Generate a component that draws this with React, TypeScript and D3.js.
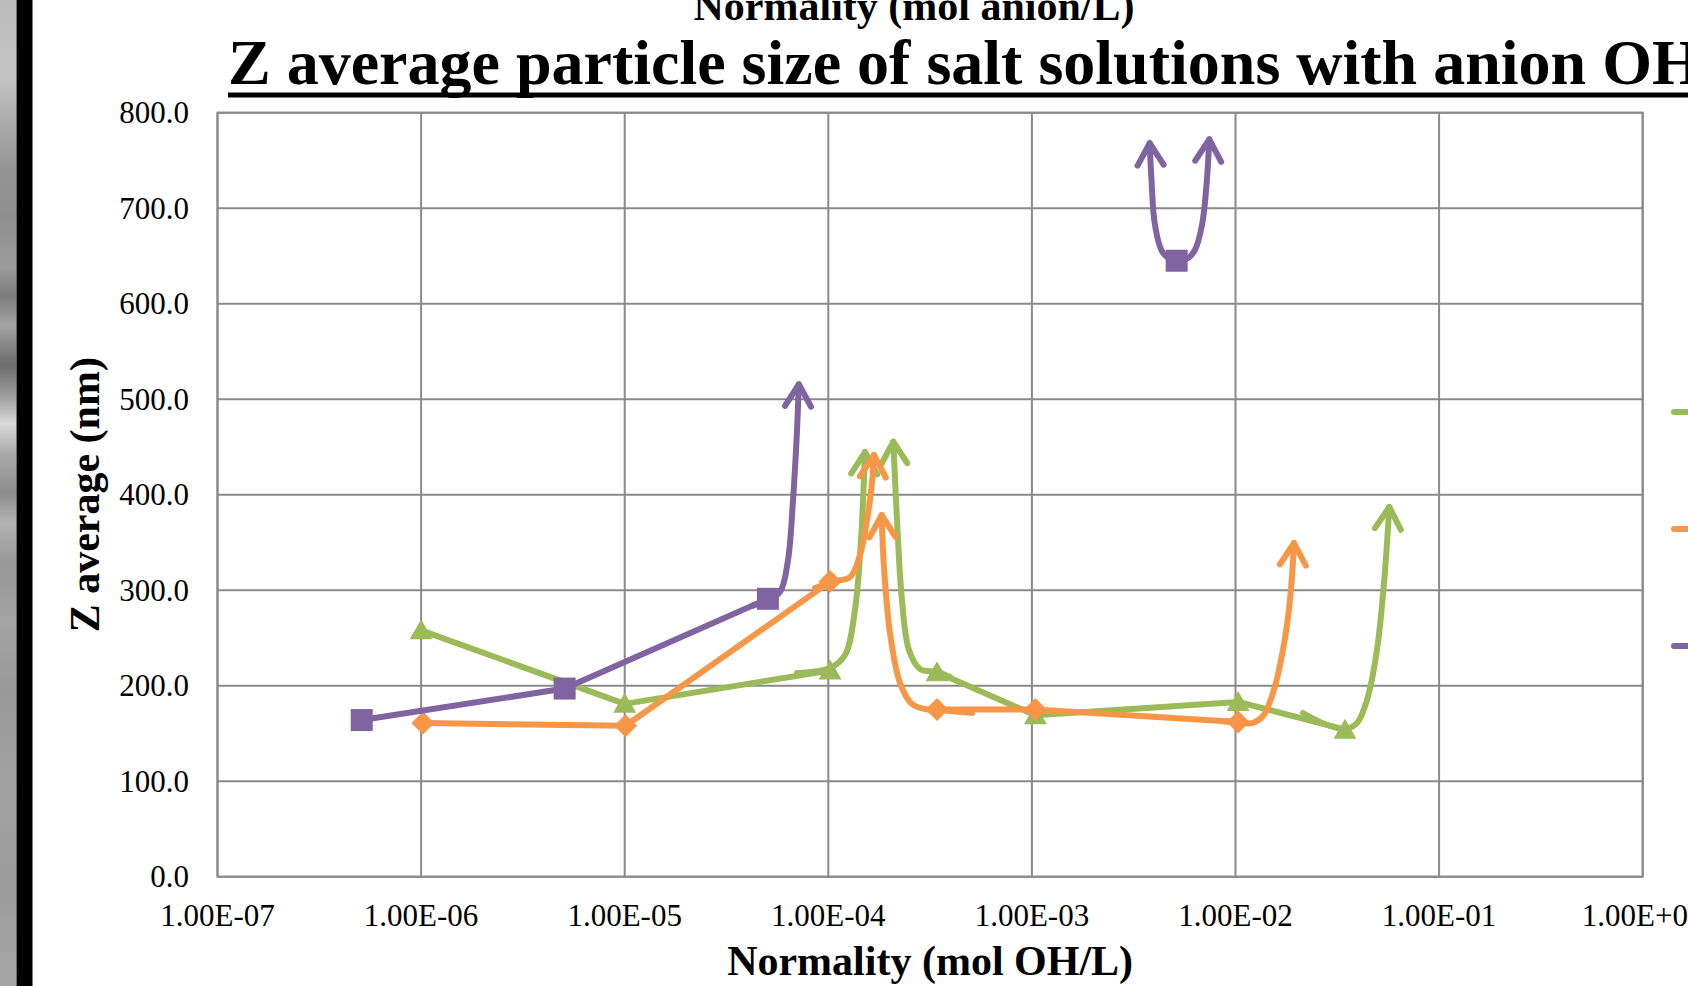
import React from "react";
import * as d3 from "d3";

// ---------- data ----------
const xTickValues = [1e-7, 1e-6, 1e-5, 1e-4, 1e-3, 1e-2, 1e-1, 1];
const xTickLabels = ["1.00E-07", "1.00E-06", "1.00E-05", "1.00E-04", "1.00E-03", "1.00E-02", "1.00E-01", "1.00E+00"];
const yTickValues = [0, 100, 200, 300, 400, 500, 600, 700, 800];
const yTickLabels = ["0.0", "100.0", "200.0", "300.0", "400.0", "500.0", "600.0", "700.0", "800.0"];

// measured points (line breaks after the listed index)
const greenX = [1e-6, 1e-5, 1.02e-4, 3.42e-4, 1.04e-3, 1.03e-2, 3.45e-2];
const greenY = [258, 181, 216, 214, 169, 183, 154];
const greenBreakAfter = [2];

const orangeX = [1.02e-6, 1.01e-5, 1.02e-4, 3.42e-4, 1.04e-3, 1.03e-2];
const orangeY = [161, 158, 309, 175, 175, 162];
const orangeBreakAfter = [2];

const purpleX = [5.11e-7, 5.07e-6, 5.05e-5, 5.14e-3];
const purpleY = [164, 197, 291, 645];
const purpleBreakAfter = [2];

// hand-drawn curved arrows (guide points in data units, last point = arrow tip)
const greenArrow1X = [7.02e-5, 1.019e-4, 1.208e-4, 1.352e-4, 1.447e-4, 1.514e-4];
const greenArrow1Y = [213.3, 218.5, 232.2, 279.3, 352.6, 444.7];
const greenArrow2X = [3.96e-4, 3.42e-4, 2.82e-4, 2.49e-4, 2.3e-4, 2.175e-4, 2.086e-4];
const greenArrow2Y = [209.1, 214.4, 217.5, 237.4, 289.7, 373.5, 455.5];
const greenArrow3X = [2.146e-2, 2.752e-2, 3.449e-2, 3.951e-2, 4.424e-2, 4.953e-2, 5.363e-2, 5.693e-2];
const greenArrow3Y = [171.4, 159.9, 154.7, 160.9, 185.0, 237.4, 307.5, 387.1];

const orangeArrow1X = [8.6e-5, 1.019e-4, 1.278e-4, 1.431e-4, 1.549e-4, 1.639e-4, 1.676e-4];
const orangeArrow1Y = [302.3, 308.6, 313.8, 336.9, 373.5, 412.3, 441.6];
const orangeArrow2X = [5.08e-4, 3.42e-4, 2.985e-4, 2.576e-4, 2.25e-4, 2.009e-4, 1.877e-4, 1.829e-4];
const orangeArrow2Y = [171.4, 174.6, 175.6, 180.8, 202.8, 255.2, 324.3, 378.7];
const orangeArrow3X = [8.88e-3, 1.029e-2, 1.205e-2, 1.365e-2, 1.528e-2, 1.711e-2, 1.852e-2, 1.938e-2];
const orangeArrow3Y = [162.5, 161.5, 160.9, 168.3, 192.4, 237.4, 289.7, 349.4];

const purpleArrow1X = [4.22e-5, 5.0e-5, 5.79e-5, 6.34e-5, 6.71e-5, 7.02e-5, 7.16e-5];
const purpleArrow1Y = [283.5, 289.7, 298.1, 331.6, 394.4, 467.7, 515.6];
const purpleArrow2X = [3.79e-3, 3.867e-3, 4.023e-3, 4.405e-3, 5.14e-3, 5.845e-3, 6.324e-3, 6.848e-3, 7.205e-3, 7.435e-3];
const purpleArrow2Y = [768.1, 729.5, 682.4, 653.1, 644.7, 647.9, 656.3, 682.4, 724.3, 772.1];

const seriesKeys = ["green", "orange", "purple"];
const seriesColors = ["#9BBB59", "#F79646", "#8064A2"];
const seriesMarkers = ["triangle", "diamond", "square"];

const titleText = "Z average particle size of salt solutions with anion OH";
const topCutText = "Normality (mol anion/L)";
const xTitle = "Normality (mol OH/L)";
const yTitle = "Z average (nm)";

// ---------- layout ----------
const W = 1688;
const H = 986;
const L = 217.5, R = 1642.7, T = 112.7, B = 876.7;
const FONT = "'Liberation Serif', 'Times New Roman', Times, serif";
const GRID = "#8a8a8a";
const LW = 6;

type Pt = { x: number; y: number };

function toPts(xs: number[], ys: number[]): Pt[] {
  return xs.map((v, i) => ({ x: v, y: ys[i] }));
}

function splitRuns(xs: number[], ys: number[], breaks: number[]): Pt[][] {
  const runs: Pt[][] = [];
  let cur: Pt[] = [];
  xs.forEach((v, i) => {
    cur.push({ x: v, y: ys[i] });
    if (breaks.includes(i)) {
      runs.push(cur);
      cur = [];
    }
  });
  if (cur.length) runs.push(cur);
  return runs;
}

const allSeries = [
  {
    key: seriesKeys[0], color: seriesColors[0], marker: seriesMarkers[0],
    xs: greenX, ys: greenY, breaks: greenBreakAfter,
    arrows: [
      { pts: toPts(greenArrow1X, greenArrow1Y), both: false },
      { pts: toPts(greenArrow2X, greenArrow2Y), both: false },
      { pts: toPts(greenArrow3X, greenArrow3Y), both: false },
    ],
  },
  {
    key: seriesKeys[1], color: seriesColors[1], marker: seriesMarkers[1],
    xs: orangeX, ys: orangeY, breaks: orangeBreakAfter,
    arrows: [
      { pts: toPts(orangeArrow1X, orangeArrow1Y), both: false },
      { pts: toPts(orangeArrow2X, orangeArrow2Y), both: false },
      { pts: toPts(orangeArrow3X, orangeArrow3Y), both: false },
    ],
  },
  {
    key: seriesKeys[2], color: seriesColors[2], marker: seriesMarkers[2],
    xs: purpleX, ys: purpleY, breaks: purpleBreakAfter,
    arrows: [
      { pts: toPts(purpleArrow1X, purpleArrow1Y), both: false },
      { pts: toPts(purpleArrow2X, purpleArrow2Y), both: true },
    ],
  },
];

function markerShape(type: string, cx: number, cy: number, color: string, key: string) {
  if (type === "triangle") {
    return <polygon key={key} points={`${cx},${cy - 11} ${cx + 11.5},${cy + 9} ${cx - 11.5},${cy + 9}`} fill={color} />;
  }
  if (type === "diamond") {
    return <polygon key={key} points={`${cx},${cy - 11.5} ${cx + 11.5},${cy} ${cx},${cy + 11.5} ${cx - 11.5},${cy}`} fill={color} />;
  }
  return <rect key={key} x={cx - 11} y={cy - 11} width={22} height={22} fill={color} />;
}

export default function App() {
  const x = d3.scaleLog().domain([1e-7, 1]).range([L, R]);
  const y = d3.scaleLinear().domain([0, 800]).range([B, T]);
  const straight = d3
    .line<Pt>()
    .x((d) => x(d.x))
    .y((d) => y(d.y));
  const curved = d3
    .line<Pt>()
    .x((d) => x(d.x))
    .y((d) => y(d.y))
    .curve(d3.curveCatmullRom.alpha(0.5));

  const stripStops = [
    [0, "#bcbcbc"], [0.08, "#c4c4c4"], [0.12, "#adadad"], [0.17, "#959595"], [0.22, "#8f8f8f"],
    [0.27, "#9c9c9c"], [0.3, "#7c7c7c"], [0.33, "#a3a3a3"], [0.37, "#6c6c6c"], [0.4, "#9a9a9a"],
    [0.43, "#dadada"], [0.46, "#a9a9a9"], [0.5, "#8d8d8d"], [0.53, "#b3b3b3"], [0.57, "#979797"],
    [0.63, "#a3a3a3"], [0.7, "#999999"], [0.8, "#a1a1a1"], [0.9, "#9b9b9b"], [1, "#a6a6a6"],
  ];

  return (
    <div style={{ position: "absolute", left: 0, top: 0 }}>
      <svg width={W} height={H} xmlns="http://www.w3.org/2000/svg" style={{ display: "block", background: "#fff" }}>
        <defs>
          <linearGradient id="strip" x1="0" y1="0" x2="0" y2="1">
            {stripStops.map((s, i) => (
              <stop key={i} offset={s[0] as number} stopColor={s[1] as string} />
            ))}
          </linearGradient>
          {allSeries.map((s) => (
            <marker
              key={s.key}
              id={`arrow-${s.key}`}
              markerUnits="userSpaceOnUse"
              markerWidth={60}
              markerHeight={60}
              viewBox="-30 -30 60 60"
              refX={0}
              refY={0}
              orient="auto-start-reverse"
              style={{ overflow: "visible" }}
            >
              <path d="M-22,-13 L0,0 L-22,13" fill="none" stroke={s.color} strokeWidth={LW} strokeLinecap="round" strokeLinejoin="round" />
            </marker>
          ))}
        </defs>

        <rect x={0} y={0} width={W} height={H} fill="#ffffff" />
        {/* left photo strip & black bar */}
        <rect x={0} y={0} width={16.5} height={H} fill="url(#strip)" />
        <rect x={16.5} y={0} width={16} height={H} fill="#000" />

        {/* cut-off previous axis title */}
        <text x={914} y={20} textAnchor="middle" fontFamily={FONT} fontWeight="bold" fontSize={42}>
          {topCutText}
        </text>

        {/* title */}
        <text x={228} y={84} fontFamily={FONT} fontWeight="bold" fontSize={64}>
          {titleText}
        </text>
        <line x1={228} x2={W + 20} y1={95} y2={95} stroke="#000" strokeWidth={4.8} />

        {/* gridlines */}
        {yTickValues.map((v) => (
          <line key={`h${v}`} x1={L} x2={R} y1={y(v)} y2={y(v)} stroke={GRID} strokeWidth={2} />
        ))}
        {xTickValues.map((v) => (
          <line key={`v${v}`} x1={x(v)} x2={x(v)} y1={T} y2={B} stroke={GRID} strokeWidth={2} />
        ))}
        <rect x={L} y={T} width={R - L} height={B - T} fill="none" stroke={GRID} strokeWidth={2} />

        {/* y tick labels */}
        {yTickValues.map((v, i) => (
          <text key={`yl${v}`} x={189} y={y(v) + 10.5} textAnchor="end" fontFamily={FONT} fontSize={31}>
            {yTickLabels[i]}
          </text>
        ))}
        {/* x tick labels */}
        {xTickValues.map((v, i) => (
          <text key={`xl${v}`} x={x(v)} y={926} textAnchor="middle" fontFamily={FONT} fontSize={31}>
            {xTickLabels[i]}
          </text>
        ))}

        {/* axis titles */}
        <text x={(L + R) / 2} y={975} textAnchor="middle" fontFamily={FONT} fontWeight="bold" fontSize={42}>
          {xTitle}
        </text>
        <text transform={`translate(99, ${(T + B) / 2}) rotate(-90)`} textAnchor="middle" fontFamily={FONT} fontWeight="bold" fontSize={42}>
          {yTitle}
        </text>

        {/* series */}
        {allSeries.map((s) => {
          const runs = splitRuns(s.xs, s.ys, s.breaks);
          return (
            <g key={s.key}>
              {runs.map((run, ri) =>
                run.length > 1 ? (
                  <path key={`r${ri}`} d={straight(run) || ""} fill="none" stroke={s.color} strokeWidth={LW} strokeLinecap="round" strokeLinejoin="round" />
                ) : null
              )}
              {s.arrows.map((a, ai) => (
                <path
                  key={`a${ai}`}
                  d={curved(a.pts) || ""}
                  fill="none"
                  stroke={s.color}
                  strokeWidth={LW}
                  strokeLinecap="round"
                  strokeLinejoin="round"
                  markerStart={a.both ? `url(#arrow-${s.key})` : undefined}
                  markerEnd={`url(#arrow-${s.key})`}
                />
              ))}
              {s.xs.map((xv, i) => markerShape(s.marker, x(xv), y(s.ys[i]), s.color, `m${i}`))}
            </g>
          );
        })}

        {/* legend (text cut off at right edge) */}
        {allSeries.map((s, i) => (
          <line key={`lg${s.key}`} x1={1674} x2={1710} y1={412 + i * 117} y2={412 + i * 117} stroke={s.color} strokeWidth={LW} strokeLinecap="round" />
        ))}
      </svg>
    </div>
  );
}
